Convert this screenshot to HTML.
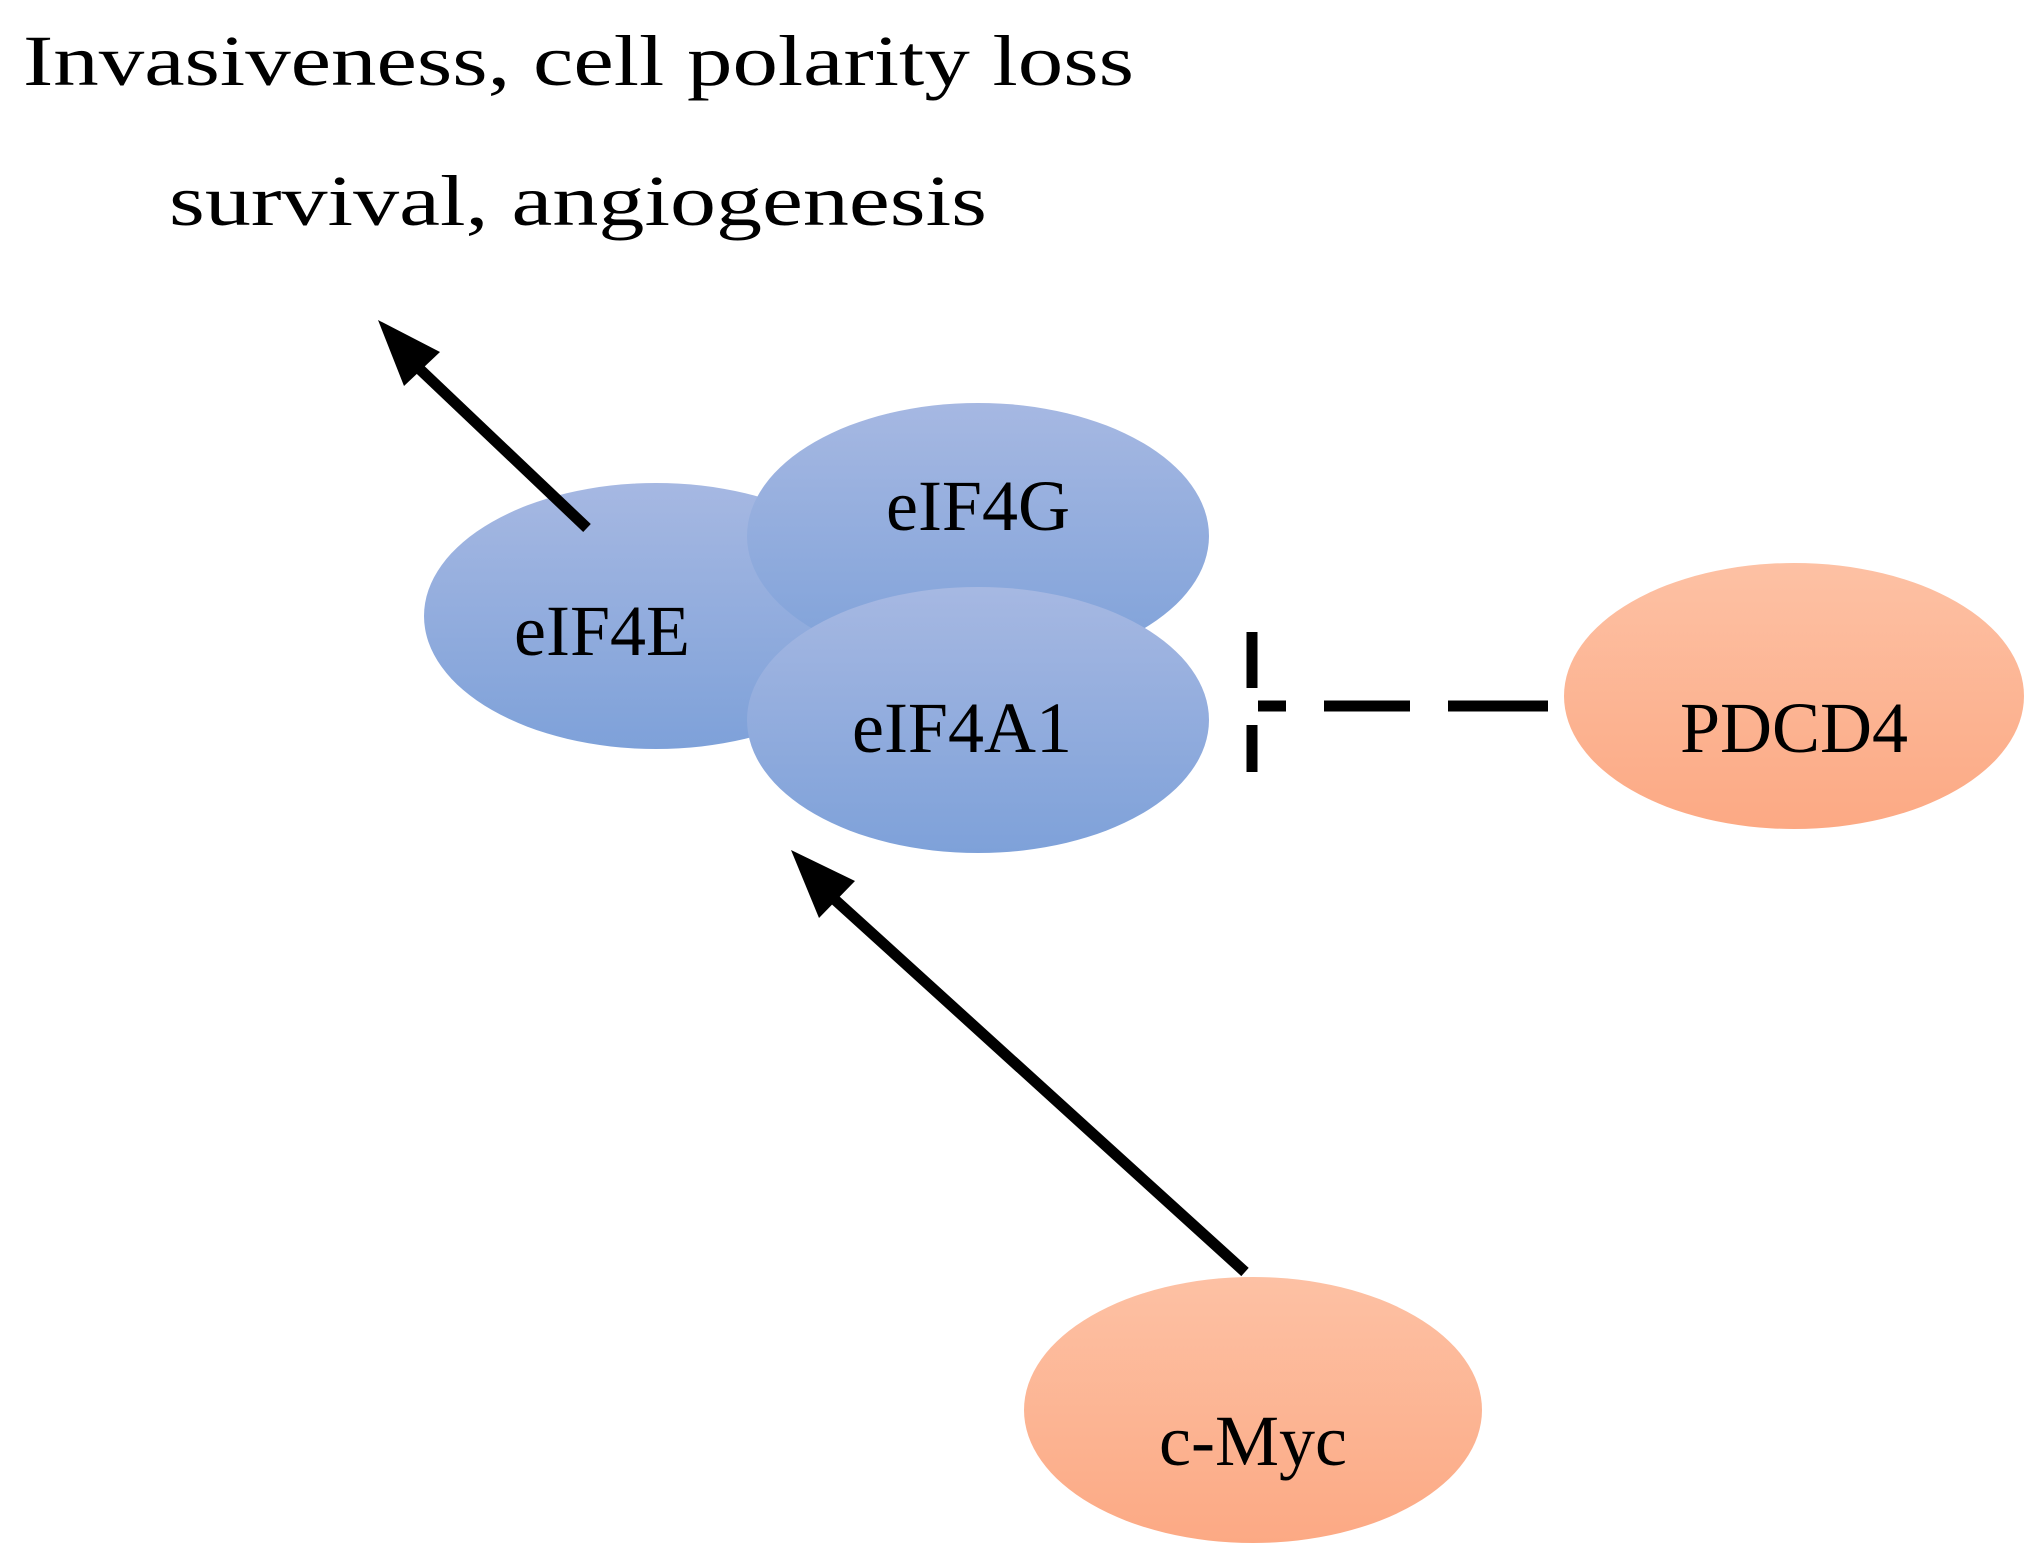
<!DOCTYPE html>
<html><head><meta charset="utf-8"><style>html,body{margin:0;padding:0;background:#fff}</style></head><body>
<svg width="2044" height="1562" viewBox="0 0 2044 1562" xmlns="http://www.w3.org/2000/svg" font-family="'Liberation Serif', serif">
<defs>
<linearGradient id="b" x1="0" y1="0" x2="0" y2="1"><stop offset="0" stop-color="#a6b8e2"/><stop offset="1" stop-color="#7ea1d9"/></linearGradient>
<linearGradient id="o" x1="0" y1="0" x2="0" y2="1"><stop offset="0" stop-color="#fdc1a4"/><stop offset="1" stop-color="#fca984"/></linearGradient>
</defs>
<text x="23" y="85" font-size="72" textLength="1111" lengthAdjust="spacingAndGlyphs">Invasiveness, cell polarity loss</text>
<text x="169" y="225" font-size="72" textLength="818" lengthAdjust="spacingAndGlyphs">survival, angiogenesis</text>
<ellipse cx="656" cy="616" rx="232" ry="133" fill="url(#b)"/>
<ellipse cx="978" cy="536" rx="231" ry="133" fill="url(#b)"/>
<ellipse cx="978" cy="720" rx="231" ry="133" fill="url(#b)"/>
<ellipse cx="1794" cy="696" rx="230" ry="133" fill="url(#o)"/>
<ellipse cx="1253" cy="1410" rx="229" ry="133" fill="url(#o)"/>
<g font-size="72" text-anchor="middle">
<text x="602" y="655">eIF4E</text>
<text x="978" y="530">eIF4G</text>
<text x="962" y="752">eIF4A1</text>
<text x="1794" y="752">PDCD4</text>
<text x="1253" y="1465">c-Myc</text>
</g>
<line x1="587" y1="528" x2="408" y2="358" stroke="#000" stroke-width="11"/>
<polygon points="378,320 440,352 404,386" fill="#000"/>
<line x1="1245" y1="1272" x2="822" y2="888" stroke="#000" stroke-width="11"/>
<polygon points="791,850 855,881 819,918" fill="#000"/>
<line x1="1252" y1="632" x2="1252" y2="688" stroke="#000" stroke-width="11"/>
<line x1="1252" y1="725" x2="1252" y2="772" stroke="#000" stroke-width="11"/>
<line x1="1258" y1="706" x2="1549" y2="706" stroke="#000" stroke-width="11" stroke-dasharray="28,38,86,38,100"/>
</svg>
</body></html>
